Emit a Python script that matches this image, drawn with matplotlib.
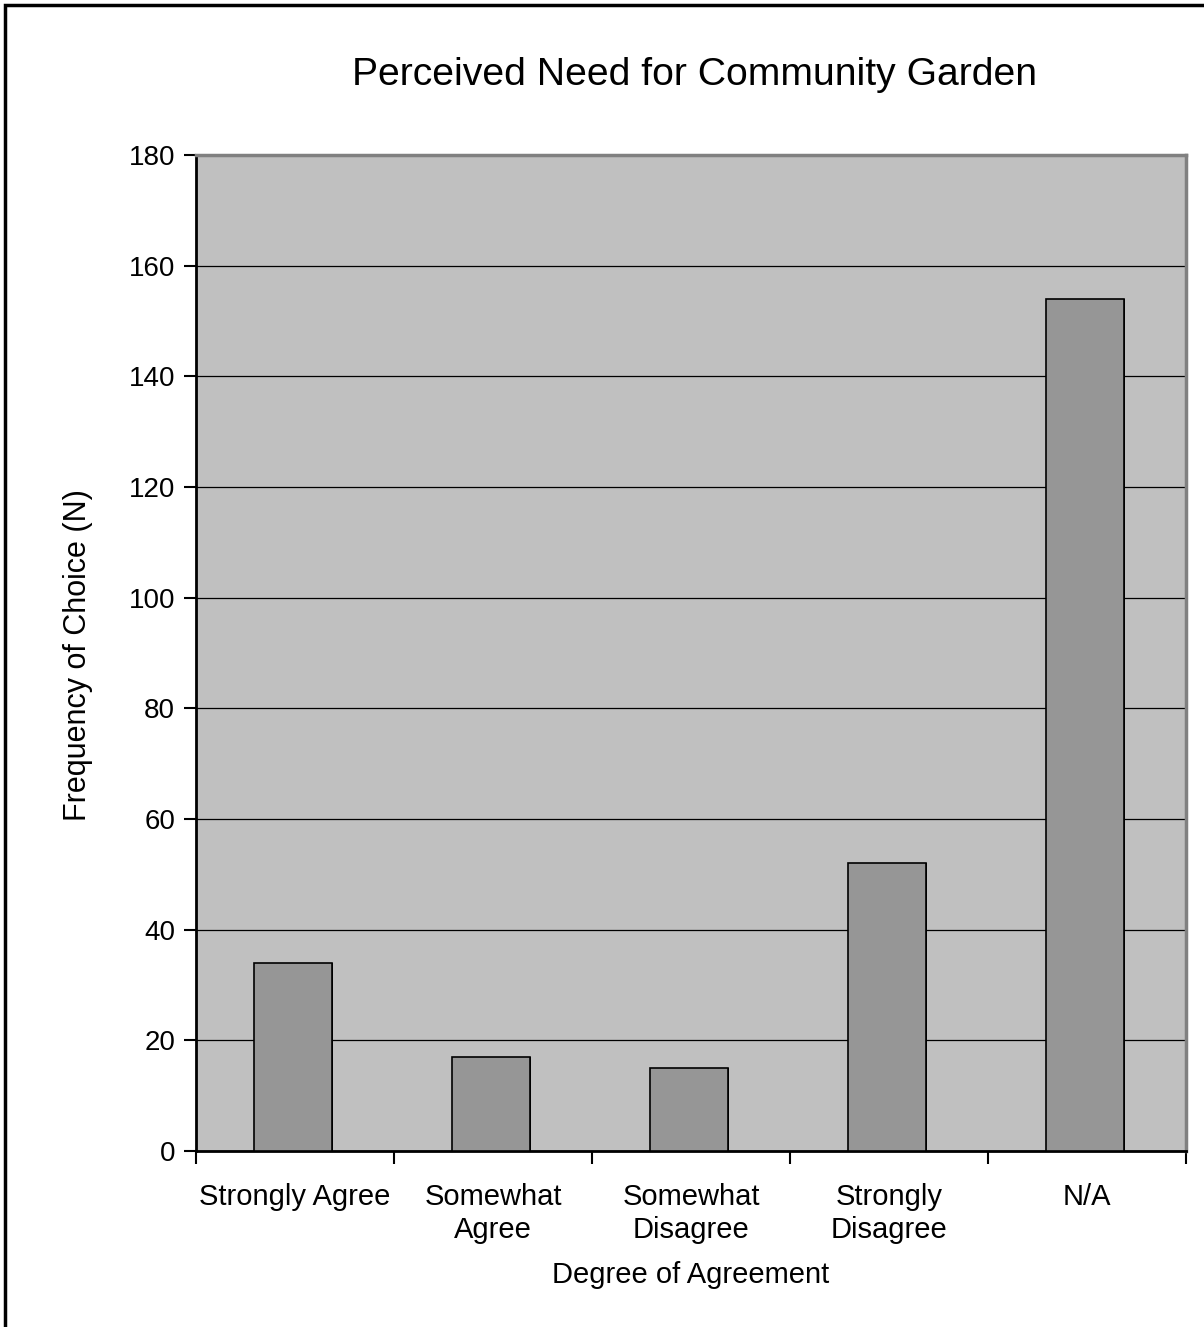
import matplotlib
matplotlib.use('Agg')
import matplotlib.pyplot as plt
import matplotlib.patches as patches
import numpy as np

plt.rcParams['font.family'] = ['Liberation Sans', 'DejaVu Sans']

categories = ['Strongly Agree', 'Somewhat\nAgree', 'Somewhat\nDisagree', 'Strongly\nDisagree', 'N/A']
counts = [34, 17, 15, 52, 154]
yticks = [0, 20, 40, 60, 80, 100, 120, 140, 160, 180]

W, H = 1204, 1327
fig = plt.figure(figsize=(W / 100, H / 100), dpi=100)
ax = fig.add_axes([196 / W, 1 - 1151 / H, (1186 - 196) / W, (1151 - 155) / H])

# outer frame (only left/top visible, runs off the page)
fig.patches.append(patches.Rectangle((5 / W, -1), 2, 1 - 5 / H + 1, transform=fig.transFigure,
                                     fill=False, edgecolor='black', linewidth=2.5))

ax.set_facecolor('#c0c0c0')
x = np.arange(len(categories))
# shadow on the right side of the bars
ax.bar(x - 0.01 + 0.008, counts, width=0.39, color='black', zorder=2)
ax.bar(x - 0.01, counts, width=0.39, color='#969696', edgecolor='black', linewidth=1.2, zorder=3)

ax.set_xlim(-0.5, len(categories) - 0.5)
ax.set_ylim(0, 180)
ax.set_yticks(yticks)
ax.yaxis.grid(True, color='black', linewidth=0.9)
ax.set_axisbelow(True)

ax.set_xticks(x)
ax.set_xticklabels(categories, fontsize=21, linespacing=1.25)
ax.set_xticks(np.arange(-0.5, len(categories)), minor=True)
ax.tick_params(axis='x', which='major', length=0, pad=23)
ax.tick_params(axis='x', which='minor', length=9, width=1.5, direction='out', color='black')
ax.tick_params(axis='y', labelsize=20, length=9, width=1.5, direction='out', pad=6)

for side in ['top', 'right']:
    ax.spines[side].set_color('#808080')
    ax.spines[side].set_linewidth(2.5)
for side in ['left', 'bottom']:
    ax.spines[side].set_color('black')
    ax.spines[side].set_linewidth(2)

fig.text(695 / W, 1 - 75 / H, 'Perceived Need for Community Garden', fontsize=28.2, ha='center', va='center')
fig.text(691 / W, 1 - 1275 / H, 'Degree of Agreement', fontsize=21, ha='center', va='center')
fig.text(78 / W, 1 - 655 / H, 'Frequency of Choice (N)', fontsize=22, ha='center', va='center', rotation=90)

fig.savefig('out.png', dpi=100)
